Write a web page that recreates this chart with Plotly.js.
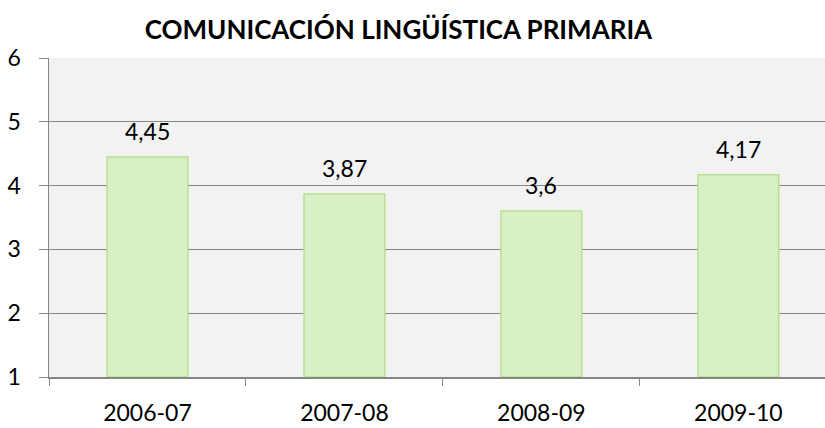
<!DOCTYPE html>
<html>
<head>
<meta charset="utf-8">
<script src="https://cdn.plot.ly/plotly-3.0.1.min.js"></script>
<style>html,body{margin:0;padding:0;background:#fff;}#chart{width:825px;height:428px;}</style>
</head>
<body>
<div id="chart"></div>
<script>
const categories = ['2006-07', '2007-08', '2008-09', '2009-10'];
const values = [4.45, 3.87, 3.6, 4.17];
const yTicks = [1, 2, 3, 4, 5, 6];
const chartTitle = 'COMUNICACIÓN LINGÜÍSTICA PRIMARIA';

const fontFam = 'Lato, "Open Sans", sans-serif';

const trace = {
  type: 'bar',
  x: categories,
  // bars start at the axis floor (1); y holds heights above it
  y: values.map(v => v - 1),
  base: 1,
  marker: { color: '#d9efc5', line: { color: '#b8e08e', width: 1.5 } },
  hoverinfo: 'none'
};

const annotations = categories.map((c, i) => ({
  x: c, y: values[i], xref: 'x', yref: 'y',
  text: String(values[i]).replace('.', ','),
  showarrow: false, yanchor: 'bottom', yshift: 10,
  font: { family: fontFam, size: 23, color: '#000' }
}));

const layout = {
  width: 825, height: 428,
  margin: { l: 49, r: 0, t: 58, b: 51 },
  paper_bgcolor: '#ffffff',
  plot_bgcolor: '#f2f2f2',
  separators: ',.',
  showlegend: false,
  bargap: 0.59,
  title: { text: '<b>' + chartTitle + '</b>', x: 0.483, xanchor: 'center', y: 0.93, yanchor: 'middle',
           font: { family: fontFam, size: 26, color: '#000' } },
  xaxis: {
    type: 'category', range: [-0.5, 3.44],
    tickson: 'boundaries', ticks: 'outside', ticklen: 7, tickcolor: '#868686', tickwidth: 1,
    showline: true, linecolor: '#868686', linewidth: 1.5,
    showgrid: false, zeroline: false,
    ticklabelstandoff: 15,
    tickfont: { family: fontFam, size: 23, color: '#000' }
  },
  yaxis: {
    range: [1, 6], tickvals: yTicks, ticktext: yTicks.map(String),
    ticks: 'outside', ticklen: 9, tickcolor: '#868686',
    showline: true, linecolor: '#868686', linewidth: 1.5,
    showgrid: true, gridcolor: '#868686', gridwidth: 1, zeroline: false,
    ticklabelstandoff: 13,
    tickfont: { family: fontFam, size: 23, color: '#000' }
  },
  annotations: annotations
};

Plotly.newPlot('chart', [trace], layout, { displayModeBar: false, staticPlot: true });
</script>
</body>
</html>
